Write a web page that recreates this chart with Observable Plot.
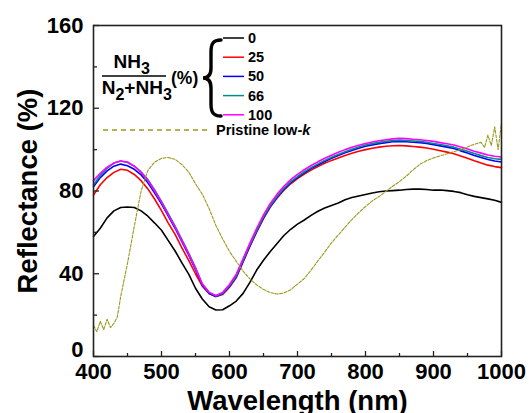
<!DOCTYPE html>
<html><head><meta charset="utf-8">
<script src="https://cdn.jsdelivr.net/npm/d3@7"></script>
<script src="https://cdn.jsdelivr.net/npm/@observablehq/plot@0.6"></script>
<style>body{margin:0;background:#fff} #chart{width:529px;height:413px;overflow:hidden}</style>
</head><body><div id="chart"></div>
<script>
const wavelength = [400,410,420,430,440,450,460,470,480,490,500,510,520,530,540,550,560,570,580,590,600,610,620,630,640,650,660,670,680,690,700,710,720,730,740,750,760,770,780,790,800,810,820,830,840,850,860,870,880,890,900,910,920,930,940,950,960,970,980,990,1000];
const r0 = [58,62,67,70.4,72,72.3,72,70.4,67.8,64.5,61,56,51,45.3,39.8,33,27.8,24,22.5,22.6,24.5,26.8,30.5,35.8,41.8,46.5,50.8,54.6,58.5,61.5,64,66,68.2,70.2,71.8,73,74.2,75.8,76.9,77.6,78.3,79,79.6,80,80.2,80.4,80.7,80.9,80.9,80.7,80.4,80.5,80.2,79.8,79.2,78.2,77.4,76.8,76.2,75.5,74.5];
const r25 = [78,83,86.5,89,90.5,90,88,85,81,76,70.5,64.5,59,52.5,46.5,40,34,30.5,29,30,33.5,38.2,45.7,53.2,60.2,66.7,72.2,76.6,80.4,83.5,86,88.2,90.1,91.8,93.4,94.8,96,97.2,98.2,99.2,100,100.7,101.2,101.6,101.9,102,101.8,101.5,101.2,100.8,100.2,99.5,98.8,98,96.9,95.8,94.6,93.5,92.5,91.8,91.3];
const r50 = [82,86.5,89.7,92,93,92.2,90.5,87.8,84,79,73.8,67.8,62,55.5,49,42,34.5,30.5,29,30.3,33.8,38.5,46,53.5,60.5,67,72.5,77,80.8,84,86.5,88.8,90.8,92.6,94.3,95.8,97.2,98.5,99.6,100.7,101.6,102.3,102.9,103.4,103.8,104,103.8,103.6,103.4,103,102.4,101.8,101.2,100.5,99.4,98.4,97.2,96.2,95.2,94.5,94];
const r66 = [83,87.5,91,93.5,94.5,93.8,92,89.2,85.5,80.5,75,69,63,56.5,50,43,35,31,29.3,30.6,34.2,39,46.5,54,61,67.5,73,77.5,81.3,84.5,87,89.3,91.3,93.1,94.8,96.3,97.7,99,100.2,101.3,102.2,102.9,103.5,104,104.4,104.6,104.4,104.2,104,103.6,103,102.5,101.9,101.2,100.2,99.2,98.1,97.1,96.2,95.6,95.3];
const r100 = [85,88.5,91.5,93.5,94.5,94,92,89,85,80,74.5,68.5,62.5,56,49.5,42.5,35,31,29.5,31,34.8,39.8,47.3,54.8,62,68.5,74,78.5,82.3,85.5,88,90.3,92.3,94.1,95.8,97.3,98.7,100,101.1,102.1,103,103.7,104.3,104.8,105.2,105.5,105.3,105,104.8,104.4,104,103.4,102.8,102.2,101.3,100.3,99.2,98.3,97.4,96.8,96.4];
const pristineWavelength = [400,405,410,415,420,425,430,435,440,450,460,470,480,490,500,510,520,530,540,550,560,570,580,590,600,610,620,630,640,650,660,670,680,690,700,710,720,730,740,750,760,770,780,790,800,810,820,830,840,850,860,870,880,890,900,910,920,930,940,950,960,970,975,980,985,990,995,1000];
const pristine = [15,12,17,13,18,14,16,19,29,45,63,80,90,94,95.8,96.2,95.3,92.8,89.2,83.5,78.5,71.5,63.3,56.8,50.8,46,41.3,37.5,34.6,32.4,30.9,30.2,30.7,32.3,35,37.7,41.8,46.2,50.5,55,58.8,62.5,66.2,69.5,72.5,75.2,77.3,79.8,82.3,84.6,87.2,90.2,92.9,94.7,96,97,98,99,100,101.3,102.6,103.5,101,107,102,111,100,113];
const seriesNames = ["0","25","50","66","100"];
const seriesColors = ["#000000","#ff0000","#0000ff","#008b8b","#ff00ff"];
const pristineColor = "#9a9a1e";
const xTicks = [400,500,600,700,800,900,1000];
const xMinorTicks = [450,550,650,750,850,950];
const yTicks = [0,40,80,120,160];
const yMinorTicks = [20,60,100,140];

const seriesValues = [r0,r25,r50,r66,r100];
const rows = seriesNames.flatMap((name,i)=>wavelength.map((w,j)=>({name, w, r: seriesValues[i][j]})));
const pristineRows = pristineWavelength.map((w,j)=>({w, r: pristine[j]}));

const W = 529, H = 413, mL = 93, mR = 28, mT = 25, mB = 57;
const innerW = W - mL - mR, innerH = H - mT - mB;
const font = "'Liberation Sans', Arial, sans-serif";

const plot = Plot.plot({
  width: W, height: H,
  marginLeft: mL, marginRight: mR, marginTop: mT, marginBottom: mB,
  style: {fontFamily: font, fontWeight: "bold", background: "#fff", overflow: "visible"},
  x: {domain: [400,1000]},
  y: {domain: [0,160]},
  color: {domain: seriesNames, range: seriesColors},
  marks: [
    Plot.line(rows, {x: "w", y: "r", z: "name", stroke: "name", strokeWidth: 1.6}),
    Plot.line(pristineRows, {x: "w", y: "r", stroke: pristineColor, strokeWidth: 1.1, strokeDasharray: "3,1.5"}),
    Plot.ruleX(xTicks, {x: d => d, insetTop: innerH - 5, stroke: "#222", strokeWidth: 1.3}),
    Plot.ruleX(xMinorTicks, {x: d => d, insetTop: innerH - 3, stroke: "#222", strokeWidth: 1.3}),
    Plot.ruleY(yTicks, {y: d => d, insetRight: innerW - 6, stroke: "#222", strokeWidth: 1.3}),
    Plot.ruleY(yMinorTicks, {y: d => d, insetRight: innerW - 4, stroke: "#222", strokeWidth: 1.3}),
    Plot.frame({stroke: "#222", strokeWidth: 1.6}),
    Plot.axisX({ticks: xTicks, tickSize: 0, tickPadding: 7, tickFormat: d => String(d), fontSize: 22, fontWeight: "bold", fill: "#000", label: null}),
    Plot.axisY({ticks: yTicks.slice(1), tickSize: 0, tickPadding: 10, tickFormat: d => String(d), fontSize: 22, fontWeight: "bold", fill: "#000", label: null}),
    Plot.axisY({ticks: [0], tickSize: 0, tickPadding: 10, dy: -7, tickFormat: d => String(d), fontSize: 22, fontWeight: "bold", fill: "#000", label: null}),
    Plot.text(["Wavelength (nm)"], {frameAnchor: "bottom", dy: 44.5, lineAnchor: "middle", textAnchor: "middle", fontSize: 27.5, fontWeight: "bold", fill: "#000"}),
    Plot.text(["Reflectance (%)"], {frameAnchor: "left", dx: -65, rotate: -90, lineAnchor: "middle", textAnchor: "middle", fontSize: 27.5, fontWeight: "bold", fill: "#000"})
  ]
});
document.getElementById("chart").appendChild(plot);

// legend (inside plot area)
const svg = d3.select(plot);
const g = svg.append("g").attr("font-family", font).attr("font-weight", "bold").attr("fill", "#000").attr("text-anchor", "start");
const num = g.append("text").attr("x", 113.5).attr("y", 68).attr("font-size", 19);
num.append("tspan").text("NH");
num.append("tspan").attr("dy", 6).attr("font-size", 16).text("3");
g.append("line").attr("x1", 102).attr("x2", 166).attr("y1", 76).attr("y2", 76).attr("stroke", "#000").attr("stroke-width", 1.6);
const den = g.append("text").attr("x", 101.7).attr("y", 94).attr("font-size", 19);
den.append("tspan").text("N");
den.append("tspan").attr("dy", 6).attr("font-size", 16).text("2");
den.append("tspan").attr("dy", -6).text("+NH");
den.append("tspan").attr("dy", 6).attr("font-size", 16).text("3");
g.append("text").attr("x", 171).attr("y", 84).attr("font-size", 17.5).text("(%)");
g.append("path")
  .attr("d", "M221,40 C213,40 211,44 211,52 L211,68 C211,75 208,78 203,78 C208,78 211,81 211,88 L211,104 C211,112 213,116 221,116")
  .attr("fill", "none").attr("stroke", "#000").attr("stroke-width", 3.4).attr("stroke-linecap", "round");
seriesNames.forEach((name, i) => {
  const y = 38 + i * 19.2;
  g.append("line").attr("x1", 223).attr("x2", 244).attr("y1", y).attr("y2", y).attr("stroke", seriesColors[i]).attr("stroke-width", 1.5);
  g.append("text").attr("x", 248).attr("y", y + 5).attr("font-size", 14.5).text(name);
});
g.append("line").attr("x1", 103).attr("x2", 210).attr("y1", 130).attr("y2", 130).attr("stroke", pristineColor).attr("stroke-width", 1.5).attr("stroke-dasharray", "5,4");
const pt = g.append("text").attr("x", 216).attr("y", 135).attr("font-size", 14.5);
pt.append("tspan").text("Pristine low-");
pt.append("tspan").attr("font-style", "italic").text("k");
</script>
</body></html>
